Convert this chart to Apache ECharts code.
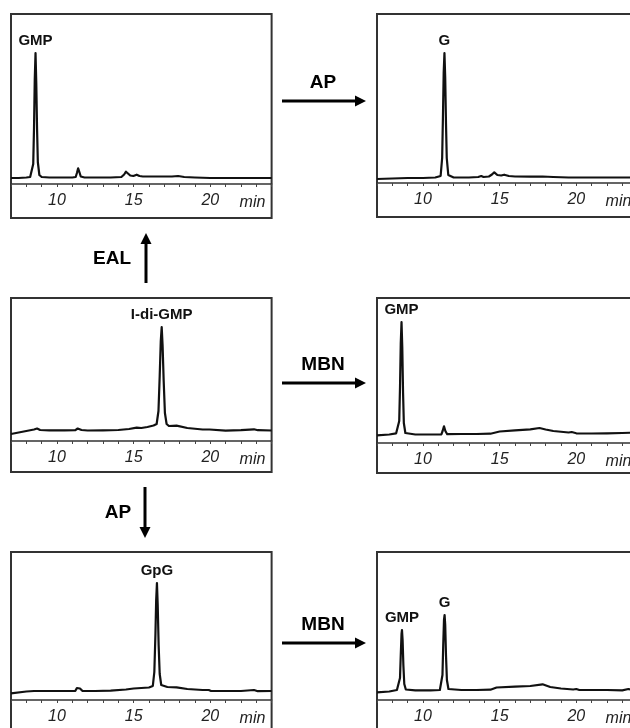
<!DOCTYPE html>
<html><head><meta charset="utf-8">
<script src="https://cdn.jsdelivr.net/npm/echarts@6/dist/echarts.min.js"></script>
<style>html,body{margin:0;padding:0;background:#fff}#c{width:630px;height:728px}</style>
</head><body><div id="c"></div>
<script>
// ---- data (retention time in min, detector signal in arbitrary units) ----
const tickLabels = [10, 15, 20];
const axisUnit = 'min';
const timeMin = 7, timeMax = 24;

const tlTrace = [[7.0,6],[7.5,6],[8.0,6.5],[8.25,7],[8.35,7.5],[8.45,20],[8.5,55],[8.55,105],[8.6,131],[8.65,100],[8.7,55],[8.75,22],[8.85,9],[9.0,7],[9.5,6.5],[10.0,6.5],[10.5,6.5],[11.0,6.5],[11.22,7],[11.3,11],[11.38,15.7],[11.46,12],[11.55,7.5],[11.8,6.5],[12.5,6.5],[13.5,6.5],[14.2,7],[14.38,9.5],[14.5,12.3],[14.62,10.5],[14.78,8.5],[14.98,8],[15.2,9.3],[15.38,8],[15.6,7.5],[16.0,7.5],[16.5,7.5],[17.0,7.5],[17.5,7.5],[17.9,8],[18.3,7],[19.0,6.5],[20.0,6],[21.0,6],[22.0,6],[23.0,6],[24.0,6]];
const trTrace = [[7.0,4],[8.0,4.5],[9.0,5],[10.0,5],[10.8,5.5],[11.15,7],[11.25,25],[11.3,65],[11.35,110],[11.4,130],[11.45,105],[11.5,60],[11.55,25],[11.65,8],[12.0,5.5],[13.0,5.5],[13.6,6],[13.8,7],[13.95,6],[14.3,6.5],[14.5,8.5],[14.65,10.7],[14.85,8],[15.1,7.5],[15.3,8.3],[15.6,7],[16.0,6.5],[17.0,6.3],[17.8,6.5],[18.5,6],[19.5,5.5],[21.0,5.5],[22.5,5.5],[24.0,5.5]];
const mlTrace = [[7.0,7],[7.5,8.5],[8.0,10],[8.5,11.5],[8.7,12.5],[8.9,11],[9.5,10.7],[10.5,10.7],[11.2,10.8],[11.35,12.5],[11.45,13.3],[11.6,11],[12.0,10.5],[13.0,10.7],[14.0,11],[14.7,12],[15.2,13.3],[15.5,13],[15.9,14],[16.3,15.5],[16.5,17],[16.62,30],[16.7,65],[16.77,100],[16.83,114],[16.89,95],[16.96,60],[17.04,28],[17.15,17],[17.3,15],[17.8,15.3],[18.5,13],[19.5,11.5],[19.95,11.5],[20.05,10.5],[21.0,10.3],[22.0,10.8],[22.85,11.7],[23.1,10.8],[24.0,10.5]];
const mrTrace = [[7.0,7.7],[7.8,8.5],[8.25,9.7],[8.35,10.5],[8.45,22],[8.5,55],[8.55,100],[8.6,121],[8.65,95],[8.7,50],[8.75,20],[8.85,10],[9.5,8.5],[10.5,8.5],[11.2,8.7],[11.28,12],[11.37,16.7],[11.46,12],[11.58,8.8],[12.5,9],[13.5,9],[14.4,9.3],[15.0,11.5],[16.0,12.7],[17.0,13.7],[17.6,15],[18.0,13.5],[18.5,12],[19.5,10.5],[19.7,11],[20.0,9.7],[21.0,9.5],[22.0,9.7],[23.0,10],[24.0,10.5]];
const blTrace = [[7.0,6.7],[8.0,8.5],[8.5,9],[9.5,9],[10.5,9],[11.2,9.2],[11.3,12],[11.4,14],[11.5,11.5],[11.65,9.2],[12.5,9],[13.5,9.3],[14.5,10.5],[15.0,11.5],[16.0,12.5],[16.25,14],[16.35,28],[16.42,65],[16.47,100],[16.52,117],[16.57,95],[16.63,55],[16.7,26],[16.8,15],[17.2,13],[17.8,12.7],[18.5,11],[19.5,10],[19.9,10],[20.05,9],[21.0,9],[22.0,9],[22.85,10],[23.1,8.8],[24.0,9]];
const brTrace = [[7.0,7.7],[7.8,8.5],[8.3,10],[8.4,11],[8.5,22],[8.55,45],[8.6,66],[8.63,70],[8.67,60],[8.72,35],[8.78,16],[8.88,10.5],[9.5,9.7],[10.5,9.7],[11.1,10],[11.18,11],[11.27,25],[11.32,55],[11.37,80],[11.41,85],[11.45,75],[11.5,45],[11.56,20],[11.66,11],[12.5,10],[13.5,10],[14.4,10.3],[14.8,12.5],[16.0,13.3],[17.0,14],[17.8,15.7],[18.3,13],[19.0,11.5],[19.8,10.5],[20.0,11],[20.2,10],[21.0,10],[22.0,10],[23.0,9.7],[23.4,11],[23.7,10],[24.0,10]];

const tlPeaks = [['GMP', 8.6]];
const trPeaks = [['G', 11.4]];
const mlPeaks = [['I-di-GMP', 16.83]];
const mrPeaks = [['GMP', 8.6]];
const blPeaks = [['GpG', 16.52]];
const brPeaks = [['GMP', 8.63], ['G', 11.41]];

const hArrowLabels = ['AP', 'MBN', 'MBN'];
const vArrowLabels = ['EAL', 'AP'];

// ---- layout ----
const FONT = '"Liberation Sans", Arial, Helvetica, sans-serif';
const PX_PER_MIN = 15.33;
const W = (timeMax - timeMin) * PX_PER_MIN;
const layout = [
  {trace: tlTrace, peaks: tlPeaks, left: 11,  top: 14,  height: 204, axisY: 184},
  {trace: trTrace, peaks: trPeaks, left: 377, top: 14,  height: 203, axisY: 183},
  {trace: mlTrace, peaks: mlPeaks, left: 11,  top: 298, height: 174, axisY: 441},
  {trace: mrTrace, peaks: mrPeaks, left: 377, top: 298, height: 175, axisY: 443},
  {trace: blTrace, peaks: blPeaks, left: 11,  top: 552, height: 182, axisY: 700},
  {trace: brTrace, peaks: brPeaks, left: 377, top: 552, height: 183, axisY: 700}
];

function peakValue(trace, t) {
  let best = trace[0];
  trace.forEach(p => { if (Math.abs(p[0] - t) < Math.abs(best[0] - t)) best = p; });
  return best[1];
}

const chart = echarts.init(document.getElementById('c'), null, {renderer: 'canvas'});

const grid = layout.map(p => ({
  left: p.left, top: p.top, width: W, height: p.height,
  show: true, borderColor: '#333', borderWidth: 2, backgroundColor: 'transparent',
  containLabel: false, outerBoundsMode: 'none'
}));
const xAxis = layout.map((p, i) => ({
  gridIndex: i, type: 'value', min: timeMin, max: timeMax, interval: 1,
  position: 'bottom', offset: -(p.top + p.height - p.axisY),
  axisLine: {show: true, onZero: false, lineStyle: {color: '#333', width: 1.5}},
  axisTick: {show: true, inside: false, length: 3, lineStyle: {color: '#444', width: 1}},
  axisLabel: {
    show: true, margin: 9, fontSize: 16, fontStyle: 'italic', color: '#222', fontFamily: FONT,
    hideOverlap: false,
    formatter: v => tickLabels.includes(v) ? String(v) : ''
  },
  splitLine: {show: false}
}));
const yAxis = layout.map((p, i) => ({
  gridIndex: i, type: 'value', show: false,
  min: -(p.top + p.height - p.axisY), max: p.axisY - p.top,
  splitLine: {show: false}
}));
const series = layout.map((p, i) => ({
  type: 'line', xAxisIndex: i, yAxisIndex: i, data: p.trace,
  showSymbol: false, symbol: 'none', silent: true, clip: false,
  lineStyle: {color: '#111', width: 2.2, join: 'round'}, z: 3,
  markPoint: {
    symbol: 'circle', symbolSize: 1, silent: true,
    itemStyle: {color: 'rgba(0,0,0,0)'},
    label: {show: true, position: 'top', distance: 4, formatter: d => d.name,
            fontWeight: 'bold', fontSize: 15, color: '#111', fontFamily: FONT},
    data: p.peaks.map(([name, t]) => ({name, coord: [t, peakValue(p.trace, t)]}))
  }
}));

// decorations: unit labels, arrows and enzyme labels
const graphic = [];
layout.forEach(p => {
  graphic.push({type: 'text', x: p.left + (22.75 - timeMin) * PX_PER_MIN, y: p.axisY + 19,
    style: {text: axisUnit, font: 'italic 16px ' + FONT, fill: '#222', textAlign: 'center', textVerticalAlign: 'middle'}});
});
function hArrow(x1, x2, y, label) {
  graphic.push({type: 'line', shape: {x1: x1, y1: y, x2: x2 - 8, y2: y}, style: {stroke: '#000', lineWidth: 3}});
  graphic.push({type: 'polygon', shape: {points: [[x2, y], [x2 - 11, y - 5.5], [x2 - 11, y + 5.5]]}, style: {fill: '#000'}});
  graphic.push({type: 'text', x: (x1 + x2) / 2 - 1, y: y - 18,
    style: {text: label, font: 'bold 19px ' + FONT, fill: '#000', textAlign: 'center', textVerticalAlign: 'middle'}});
}
function vArrow(x, yFrom, yTo, label, lx, ly) {
  const dir = yTo < yFrom ? 1 : -1;
  graphic.push({type: 'line', shape: {x1: x, y1: yFrom, x2: x, y2: yTo + dir * 8}, style: {stroke: '#000', lineWidth: 3}});
  graphic.push({type: 'polygon', shape: {points: [[x, yTo], [x - 5.5, yTo + dir * 11], [x + 5.5, yTo + dir * 11]]}, style: {fill: '#000'}});
  graphic.push({type: 'text', x: lx, y: ly,
    style: {text: label, font: 'bold 19px ' + FONT, fill: '#000', textAlign: 'center', textVerticalAlign: 'middle'}});
}
hArrow(282, 366, 101, hArrowLabels[0]);
hArrow(282, 366, 383, hArrowLabels[1]);
hArrow(282, 366, 643, hArrowLabels[2]);
vArrow(146, 283, 233, vArrowLabels[0], 112, 259);
vArrow(145, 487, 538, vArrowLabels[1], 118, 513);

chart.setOption({
  animation: false,
  backgroundColor: '#fff',
  grid, xAxis, yAxis, series, graphic
});
</script>
</body></html>
